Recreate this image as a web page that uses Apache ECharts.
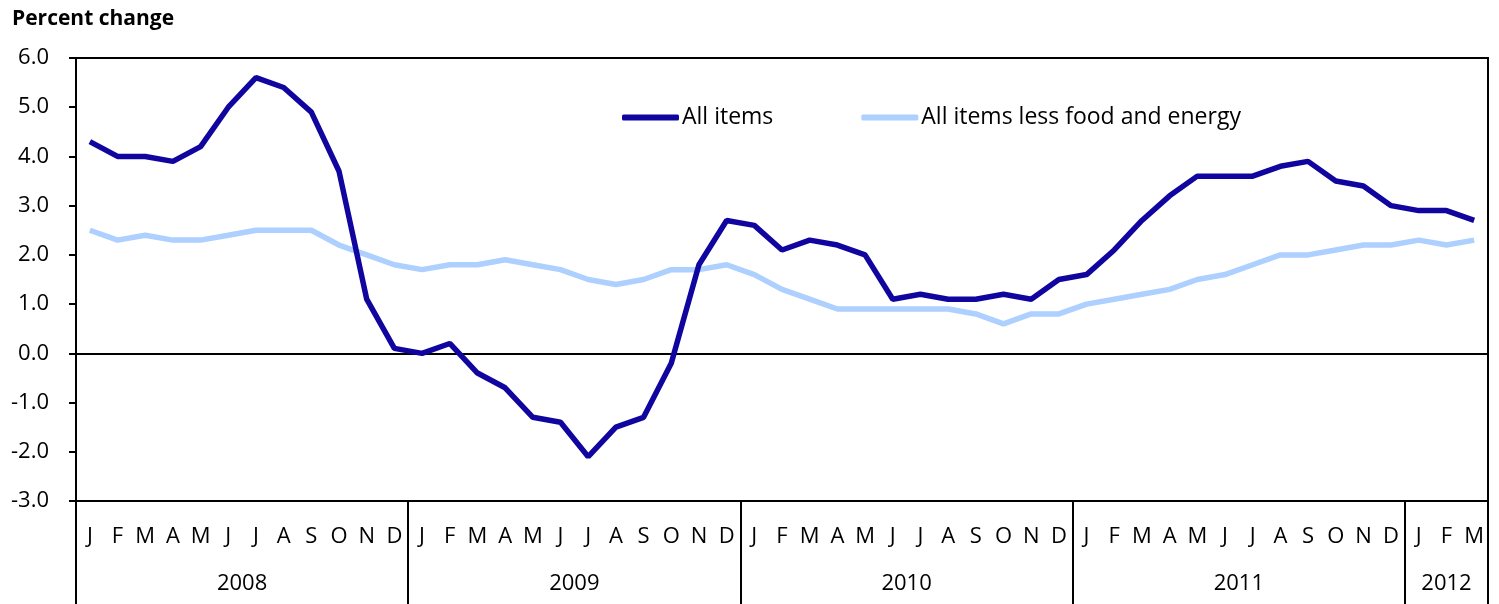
<!DOCTYPE html>
<html>
<head>
<meta charset="utf-8">
<script src="https://cdn.jsdelivr.net/npm/echarts@6/dist/echarts.min.js"></script>
<style>
html,body{margin:0;padding:0;background:#fff;}
#chart{width:1499px;height:604px;}
</style>
</head>
<body>
<div id="chart"></div>
<script>
// ---- data ----
const monthLetters = ['J','F','M','A','M','J','J','A','S','O','N','D'];
const years = ['2008','2009','2010','2011','2012'];
const monthsInYear = [12,12,12,12,3];
const allItems = [
  4.3,4.0,4.0,3.9,4.2,5.0,5.6,5.4,4.9,3.7,1.1,0.1,
  0.0,0.2,-0.4,-0.7,-1.3,-1.4,-2.1,-1.5,-1.3,-0.2,1.8,2.7,
  2.6,2.1,2.3,2.2,2.0,1.1,1.2,1.1,1.1,1.2,1.1,1.5,
  1.6,2.1,2.7,3.2,3.6,3.6,3.6,3.8,3.9,3.5,3.4,3.0,
  2.9,2.9,2.7
];
const coreItems = [
  2.5,2.3,2.4,2.3,2.3,2.4,2.5,2.5,2.5,2.2,2.0,1.8,
  1.7,1.8,1.8,1.9,1.8,1.7,1.5,1.4,1.5,1.7,1.7,1.8,
  1.6,1.3,1.1,0.9,0.9,0.9,0.9,0.9,0.8,0.6,0.8,0.8,
  1.0,1.1,1.2,1.3,1.5,1.6,1.8,2.0,2.0,2.1,2.2,2.2,
  2.3,2.2,2.3
];
const seriesNames = ['All items','All items less food and energy'];
const yMin = -3, yMax = 6, yStep = 1;

// ---- derived axis helpers ----
const categories = [];
const yearBounds = [0];
const yearCenters = [];
years.forEach((y, i) => {
  for (let m = 0; m < monthsInYear[i]; m++) categories.push(y + '-' + m);
  const start = yearBounds[yearBounds.length - 1];
  const end = start + monthsInYear[i];
  yearBounds.push(end);
  yearCenters.push((start + end) / 2);
});
const total = yearBounds[yearBounds.length - 1];

const FONT = "'Open Sans', 'Noto Sans', sans-serif";
const chart = echarts.init(document.getElementById('chart'), null, {renderer: 'canvas'});
chart.setOption({
  animation: false,
  backgroundColor: '#fff',
  title: {
    text: 'Percent change',
    left: 7, top: 4,
    textStyle: {fontFamily: FONT, fontSize: 21, fontWeight: 'bold', color: '#000'}
  },
  legend: {
    left: 622, top: 106,
    padding: 0,
    itemWidth: 57, itemHeight: 6, itemGap: 88,
    icon: 'roundRect',
    data: seriesNames,
    textStyle: {fontFamily: FONT, fontSize: 23, color: '#000', padding: [0,0,0,-2]}
  },
  grid: {
    left: 76, right: 11, top: 58, bottom: 103,
    show: true, borderColor: '#000', borderWidth: 2
  },
  xAxis: [
    {
      type: 'category',
      data: categories,
      boundaryGap: true,
      position: 'bottom',
      axisLine: {show: true, lineStyle: {color: '#000', width: 2}},
      axisTick: {show: false},
      splitLine: {show: false},
      axisLabel: {
        interval: 0, margin: 25,
        fontFamily: FONT, fontSize: 22, color: '#000',
        formatter: v => monthLetters[+v.split('-')[1]]
      }
    },
    {
      type: 'value',
      min: 0, max: total,
      position: 'bottom',
      axisLine: {show: false},
      splitLine: {show: false},
      axisTick: {show: true, customValues: yearBounds, length: 103, lineStyle: {color: '#000', width: 2}},
      axisLabel: {
        customValues: yearCenters, margin: 72,
        fontFamily: FONT, fontSize: 22, color: '#000',
        formatter: v => {
          const i = yearCenters.indexOf(v);
          return i >= 0 ? years[i] : '';
        }
      }
    }
  ],
  yAxis: {
    type: 'value',
    min: yMin, max: yMax, interval: yStep,
    axisLine: {show: true, lineStyle: {color: '#000', width: 2}},
    axisTick: {show: true, length: 7, inside: false, lineStyle: {color: '#000', width: 2}},
    splitLine: {show: false},
    axisLabel: {
      margin: 27,
      fontFamily: FONT, fontSize: 22, color: '#000',
      formatter: v => v.toFixed(1)
    }
  },
  series: [
    {
      name: seriesNames[0],
      type: 'line',
      data: allItems,
      symbol: 'none',
      lineStyle: {color: '#10069F', width: 5.5},
      itemStyle: {color: '#10069F'},
      z: 3,
      markLine: {
        silent: true, symbol: 'none',
        label: {show: false},
        lineStyle: {color: '#000', width: 2, type: 'solid'},
        data: [{yAxis: 0}],
        z: 1
      }
    },
    {
      name: seriesNames[1],
      type: 'line',
      data: coreItems,
      symbol: 'none',
      lineStyle: {color: '#ADD0FF', width: 5.5},
      itemStyle: {color: '#ADD0FF'},
      z: 2
    }
  ]
});
</script>
</body>
</html>
